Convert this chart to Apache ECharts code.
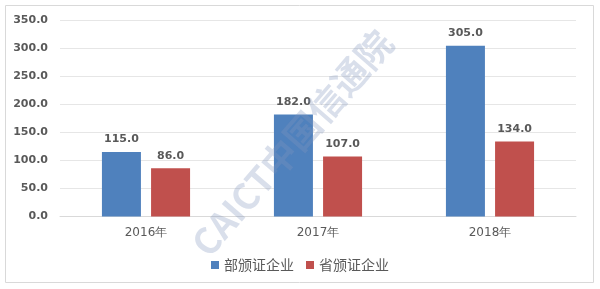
<!DOCTYPE html>
<html>
<head>
<meta charset="utf-8">
<script src="https://cdn.jsdelivr.net/npm/echarts@6/dist/echarts.min.js"></script>
<style>
    html, body { margin: 0; padding: 0; background: #fff; }
    #chart { width: 600px; height: 289px; }
</style>
</head>
<body>
<div id="chart"></div>
<script>
    var years = ['2016年', '2017年', '2018年'];
    var seriesNames = ['部颁证企业', '省颁证企业'];
    var ministryValues = [115, 182, 305];
    var provinceValues = [86, 107, 134];

    var chart = echarts.init(document.getElementById('chart'));
    var labelStyle = {
        show: true,
        position: 'top',
        distance: 7,
        color: '#595959',
        fontWeight: 'bold',
        fontSize: 11,
        fontFamily: 'DejaVu Sans',
        formatter: function (p) { return p.value.toFixed(1); }
    };

    chart.setOption({
        animation: false,
        color: ['#4F81BD', '#C0504D'],
        graphic: [
            {
                type: 'rect',
                shape: { x: 5.5, y: 5.5, width: 588, height: 277 },
                style: { fill: 'none', stroke: '#d9d9d9', lineWidth: 1 },
                silent: true
            },
            {
                type: 'text',
                x: 292, y: 143,
                rotation: Math.PI * 49 / 180,
                z: 100,
                silent: true,
                style: {
                    text: 'CAICT中国信通院',
                    fill: 'rgba(130,150,190,0.3)',
                    font: 'bold 36px "Noto Sans CJK SC"',
                    align: 'center',
                    verticalAlign: 'middle'
                }
            }
        ],
        legend: {
            data: seriesNames,
            top: 253,
            left: 'center',
            itemWidth: 8,
            itemHeight: 8,
            itemGap: 12,
            icon: 'rect',
            textStyle: { color: '#595959', fontSize: 14, fontFamily: 'Noto Sans CJK SC', padding: [0, 0, 0, 0] }
        },
        grid: { left: 60, right: 24, top: 20.5, bottom: 72.5 },
        xAxis: {
            type: 'category',
            data: years,
            axisTick: { show: false },
            axisLine: { lineStyle: { color: '#d9d9d9' } },
            axisLabel: { color: '#595959', fontSize: 12, fontFamily: 'DejaVu Sans', margin: 10 }
        },
        yAxis: {
            type: 'value',
            min: 0,
            max: 350,
            interval: 50,
            axisLine: { show: false },
            axisTick: { show: false },
            splitLine: { lineStyle: { color: '#e6e6e6' } },
            axisLabel: {
                color: '#595959',
                fontSize: 11,
                fontWeight: 'bold',
                fontFamily: 'DejaVu Sans',
                margin: 12,
                formatter: function (v) { return v.toFixed(1); }
            }
        },
        series: [
            {
                name: seriesNames[0],
                type: 'bar',
                data: ministryValues,
                barWidth: 39,
                barGap: '26%',
                label: labelStyle
            },
            {
                name: seriesNames[1],
                type: 'bar',
                data: provinceValues,
                barWidth: 39,
                label: labelStyle
            }
        ]
    });
</script>
</body>
</html>
